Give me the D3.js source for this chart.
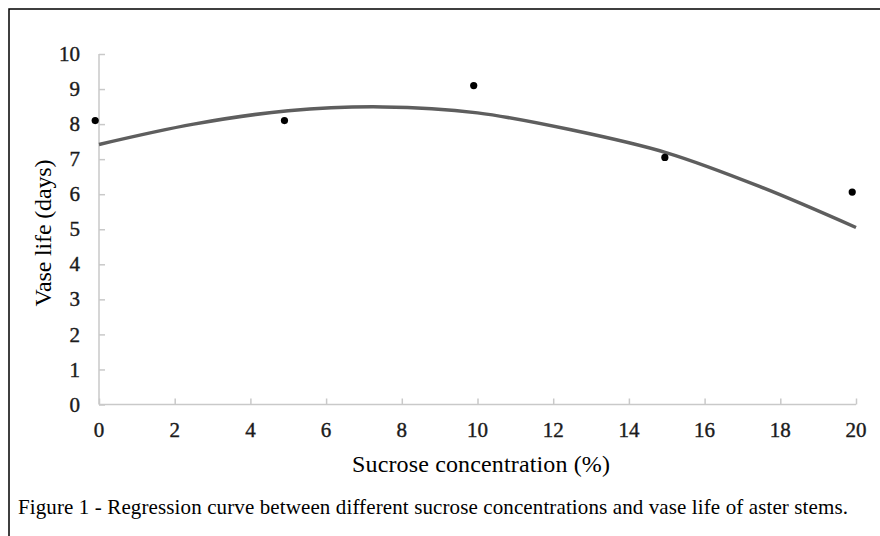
<!DOCTYPE html>
<html>
<head>
<meta charset="utf-8">
<script src="https://cdn.jsdelivr.net/npm/d3@7"></script>
<style>
  body { margin: 0; background: #fff; }
  svg text { font-family: 'Liberation Serif', 'DejaVu Serif', serif; }
</style>
</head>
<body>
<svg id="chart" width="880" height="536"></svg>
<script>
// observed points (sucrose %, vase life days)
var pointX = [-0.1, 4.9, 9.9, 14.95, 19.9];
var pointY = [8.1, 8.1, 9.1, 7.05, 6.06];

// regression curve
var curveX = [0, 2.5, 5, 7.5, 10, 12.5, 15, 17.5, 20];
var curveY = [7.42, 8.0, 8.38, 8.49, 8.32, 7.83, 7.18, 6.2, 5.05];

var xTicks = [0, 2, 4, 6, 8, 10, 12, 14, 16, 18, 20];
var yTicks = [0, 1, 2, 3, 4, 5, 6, 7, 8, 9, 10];

var serif = 'Liberation Serif';

var svg = d3.select('#chart');

// frame (only top and left visible)
svg.append('path')
    .attr('d', 'M9,600 L9,9 L900,9')
    .attr('fill', 'none')
    .attr('stroke', '#000')
    .attr('stroke-width', 1.5);

var x = d3.scaleLinear().domain([0, 20]).range([99, 856]);
var y = d3.scaleLinear().domain([0, 10]).range([404.5, 54]);

var axisColor = '#c9c9c9';

// y axis
var yAxis = svg.append('g').attr('transform', 'translate(' + x(0) + ',0)')
    .call(d3.axisRight(y).tickValues(yTicks).tickSize(6).tickFormat(''));
yAxis.select('.domain').attr('stroke', axisColor).attr('stroke-width', 1.5).attr('d', 'M0,' + y(10) + 'V' + y(0));
yAxis.selectAll('.tick line').attr('stroke', axisColor).attr('stroke-width', 1.5);

svg.append('g').selectAll('text')
    .data(yTicks)
    .enter()
    .append('text')
    .attr('x', 80)
    .attr('y', function(d) { return y(d); })
    .attr('dy', '0.34em')
    .attr('text-anchor', 'end')
    .attr('font-family', serif)
    .attr('font-size', 21)
    .attr('fill', '#1b1b1b')
    .attr('stroke', '#1b1b1b')
    .attr('stroke-width', 0.4)
    .text(function(d) { return d; });

// x axis
var xAxis = svg.append('g').attr('transform', 'translate(0,' + y(0) + ')')
    .call(d3.axisTop(x).tickValues(xTicks).tickSize(6).tickFormat(''));
xAxis.select('.domain').attr('stroke', axisColor).attr('stroke-width', 1.5).attr('d', 'M' + x(0) + ',0H' + x(20));
xAxis.selectAll('.tick line').attr('stroke', axisColor).attr('stroke-width', 1.5);

svg.append('g').selectAll('text')
    .data(xTicks)
    .enter()
    .append('text')
    .attr('x', function(d) { return x(d); })
    .attr('y', 437)
    .attr('text-anchor', 'middle')
    .attr('font-family', serif)
    .attr('font-size', 21)
    .attr('fill', '#1b1b1b')
    .attr('stroke', '#1b1b1b')
    .attr('stroke-width', 0.4)
    .text(function(d) { return d; });

// axis titles
svg.append('text')
    .attr('x', 481)
    .attr('y', 472)
    .attr('text-anchor', 'middle')
    .attr('font-family', serif)
    .attr('font-size', 24)
    .attr('textLength', 258)
    .text('Sucrose concentration (%)');

svg.append('text')
    .attr('transform', 'translate(51,233) rotate(-90)')
    .attr('text-anchor', 'middle')
    .attr('font-family', serif)
    .attr('font-size', 24)
    .attr('textLength', 147)
    .text('Vase life (days)');

// regression curve
var line = d3.line()
    .x(function(d, i) { return x(curveX[i]); })
    .y(function(d) { return y(d); })
    .curve(d3.curveCatmullRom);

svg.append('path')
    .datum(curveY)
    .attr('d', line)
    .attr('fill', 'none')
    .attr('stroke', '#5e5e5e')
    .attr('stroke-width', 3.5);

// points
svg.append('g').selectAll('circle')
    .data(pointY)
    .enter()
    .append('circle')
    .attr('cx', function(d, i) { return x(pointX[i]); })
    .attr('cy', function(d) { return y(d); })
    .attr('r', 3.6)
    .attr('fill', '#000');

// caption
svg.append('text')
    .attr('x', 18)
    .attr('y', 514)
    .attr('font-family', serif)
    .attr('font-size', 21)
    .attr('textLength', 830)
    .text('Figure 1 - Regression curve between different sucrose concentrations and vase life of aster stems.');
</script>
</body>
</html>
